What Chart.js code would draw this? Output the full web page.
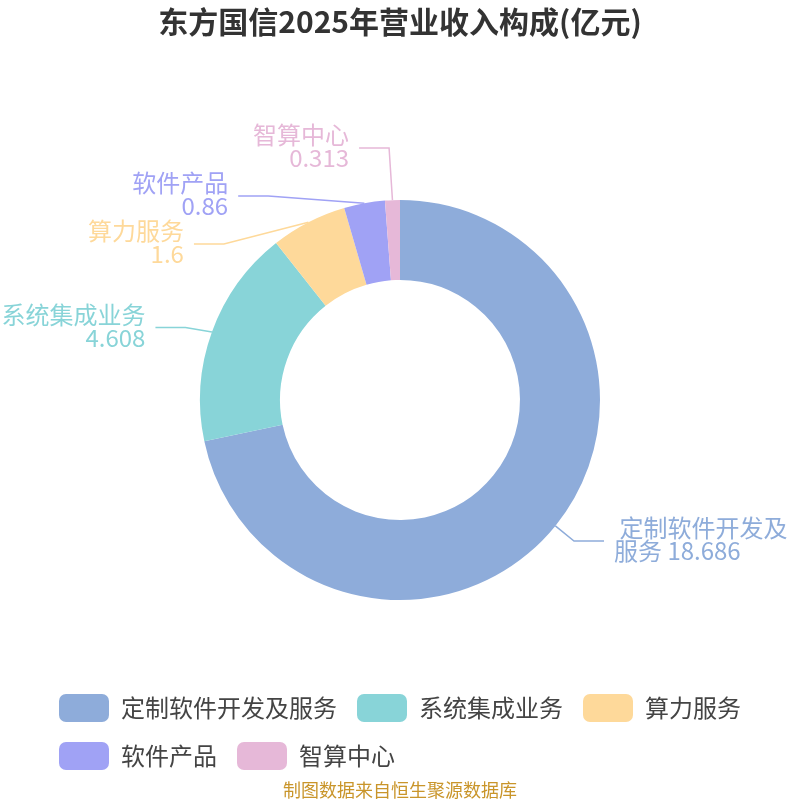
<!DOCTYPE html>
<html>
<head>
<meta charset="utf-8">
<script src="https://cdn.jsdelivr.net/npm/chart.js@4.4.1/dist/chart.umd.min.js"></script>
<style>
    html, body { margin: 0; padding: 0; background: #fff; }
    #wrap { width: 800px; height: 800px; }
</style>
</head>
<body>
<div id="wrap"><canvas id="pieChart"></canvas></div>
<script>
// Data
const categories = ['定制软件开发及服务', '系统集成业务', '算力服务', '软件产品', '智算中心'];
const revenue = [18.686, 4.608, 1.6, 0.86, 0.313];
const sliceColors = ['#8eacda', '#88d4d8', '#fed99a', '#a0a2f5', '#e6b8d8'];

const titleText = '东方国信2025年营业收入构成(亿元)';
const sourceText = '制图数据来自恒生聚源数据库';

const FONT = '"Noto Sans CJK SC", "Noto Sans", sans-serif';
Chart.defaults.font.family = FONT;

// Outside labels with leader lines (echarts-like layout)
const outsideLabels = {
    id: 'outsideLabels',
    afterDatasetsDraw(chart) {
        const ctx = chart.ctx;
        const meta = chart.getDatasetMeta(0);
        const ds = chart.data.datasets[0];
        const lineLen = 24;
        const lineLen2 = 30;
        const gap = 10;
        const spacing = 48;

        const items = meta.data.map((arc, i) => {
            const p = arc.getProps(['x', 'y', 'startAngle', 'endAngle', 'outerRadius'], true);
            const mid = (p.startAngle + p.endAngle) / 2;
            const dir = Math.cos(mid) < 0 ? -1 : 1;
            return {
                i, dir, mid,
                cx: p.x, cy: p.y, r: p.outerRadius,
                sx: p.x + Math.cos(mid) * p.outerRadius,
                sy: p.y + Math.sin(mid) * p.outerRadius,
                ny: p.y + Math.sin(mid) * (p.outerRadius + 13),
                ex: p.x + Math.cos(mid) * (p.outerRadius + lineLen),
                ey: p.y + Math.sin(mid) * (p.outerRadius + lineLen)
            };
        });

        // spread labels on each side so they do not overlap
        [-1, 1].forEach(side => {
            const list = items.filter(it => it.dir === side).sort((a, b) => a.ny - b.ny);
            if (!list.length) return;
            let groups = list.map(it => ({ members: [it], mean: it.ny }));
            let merged = true;
            while (merged) {
                merged = false;
                for (let g = 0; g < groups.length - 1; g++) {
                    const a = groups[g], b = groups[g + 1];
                    const aBottom = a.mean + (a.members.length - 1) * spacing / 2;
                    const bTop = b.mean - (b.members.length - 1) * spacing / 2;
                    if (bTop - aBottom < spacing) {
                        const members = a.members.concat(b.members);
                        const mean = members.reduce((s, m) => s + m.ny, 0) / members.length;
                        groups.splice(g, 2, { members, mean });
                        merged = true;
                        break;
                    }
                }
            }
            let shifted = false;
            groups.forEach(g => {
                const n = g.members.length;
                g.members.forEach((m, k) => {
                    m.ly = g.mean + (k - (n - 1) / 2) * spacing;
                    if (n > 1) shifted = true;
                });
            });
            if (shifted) {
                const cy = list[0].cy, cx = list[0].cx;
                const rA = list[0].r + lineLen;
                const rB = Math.max(...list.map(m => Math.abs(m.ly - cy))) + 0.3;
                list.forEach(m => {
                    const dy = Math.abs(m.ly - cy);
                    const dx = Math.sqrt(Math.max(0, 1 - (dy * dy) / (rB * rB))) * rA;
                    m.ex = cx + dx * side;
                    m.ey = m.ly;
                });
            }
        });

        ctx.save();
        ctx.font = '24px ' + FONT;
        ctx.textBaseline = 'middle';
        items.forEach(it => {
            const color = ds.backgroundColor[it.i];
            const name = chart.data.labels[it.i];
            const value = String(ds.data[it.i]);
            const hx = it.ex + it.dir * lineLen2;

            ctx.strokeStyle = color;
            ctx.lineWidth = 1.5;
            ctx.beginPath();
            ctx.moveTo(it.sx, it.sy);
            ctx.lineTo(it.ex, it.ey);
            ctx.lineTo(hx, it.ey);
            ctx.stroke();

            let lines = [name, value];
            const tx = hx + it.dir * gap;
            if (it.dir > 0) {
                const avail = chart.width - tx - 5;
                const full = ' ' + name;
                if (ctx.measureText(full).width > avail) {
                    let cut = full.length;
                    while (cut > 1 && ctx.measureText(full.slice(0, cut)).width > avail) cut--;
                    lines = [full.slice(0, cut), full.slice(cut) + ' ' + value];
                }
            }
            ctx.fillStyle = color;
            ctx.textAlign = it.dir > 0 ? 'left' : 'right';
            ctx.fillText(lines[0], tx, it.ey - 13);
            ctx.fillText(lines[1], tx, it.ey + 10);
        });
        ctx.restore();
    },
    afterDraw(chart) {
        const ctx = chart.ctx;
        ctx.save();
        ctx.font = '18px ' + FONT;
        ctx.fillStyle = '#c9952a';
        ctx.textAlign = 'center';
        ctx.textBaseline = 'middle';
        ctx.fillText(sourceText, chart.width / 2, chart.height - 10);
        ctx.restore();
    }
};

const ctx = document.getElementById('pieChart').getContext('2d');

const pieChart = new Chart(ctx, {
    type: 'doughnut',
    data: {
        labels: categories,
        datasets: [{
            data: revenue,
            backgroundColor: sliceColors,
            borderWidth: 0,
            radius: 200,
            cutout: '60%'
        }]
    },
    options: {
        responsive: true,
        maintainAspectRatio: false,
        animation: false,
        layout: {
            padding: { left: 39, right: 39, top: 0, bottom: 20 }
        },
        plugins: {
            title: {
                display: true,
                text: titleText,
                color: '#333',
                font: { size: 30, weight: 'bold', family: FONT },
                padding: { top: 4, bottom: 86 }
            },
            legend: {
                position: 'bottom',
                align: 'start',
                labels: {
                    boxWidth: 50,
                    boxHeight: 28,
                    useBorderRadius: true,
                    borderRadius: 7,
                    padding: 20,
                    color: '#444',
                    font: { size: 24, family: FONT }
                }
            },
            tooltip: { enabled: false }
        }
    },
    plugins: [outsideLabels]
});
</script>
</body>
</html>
